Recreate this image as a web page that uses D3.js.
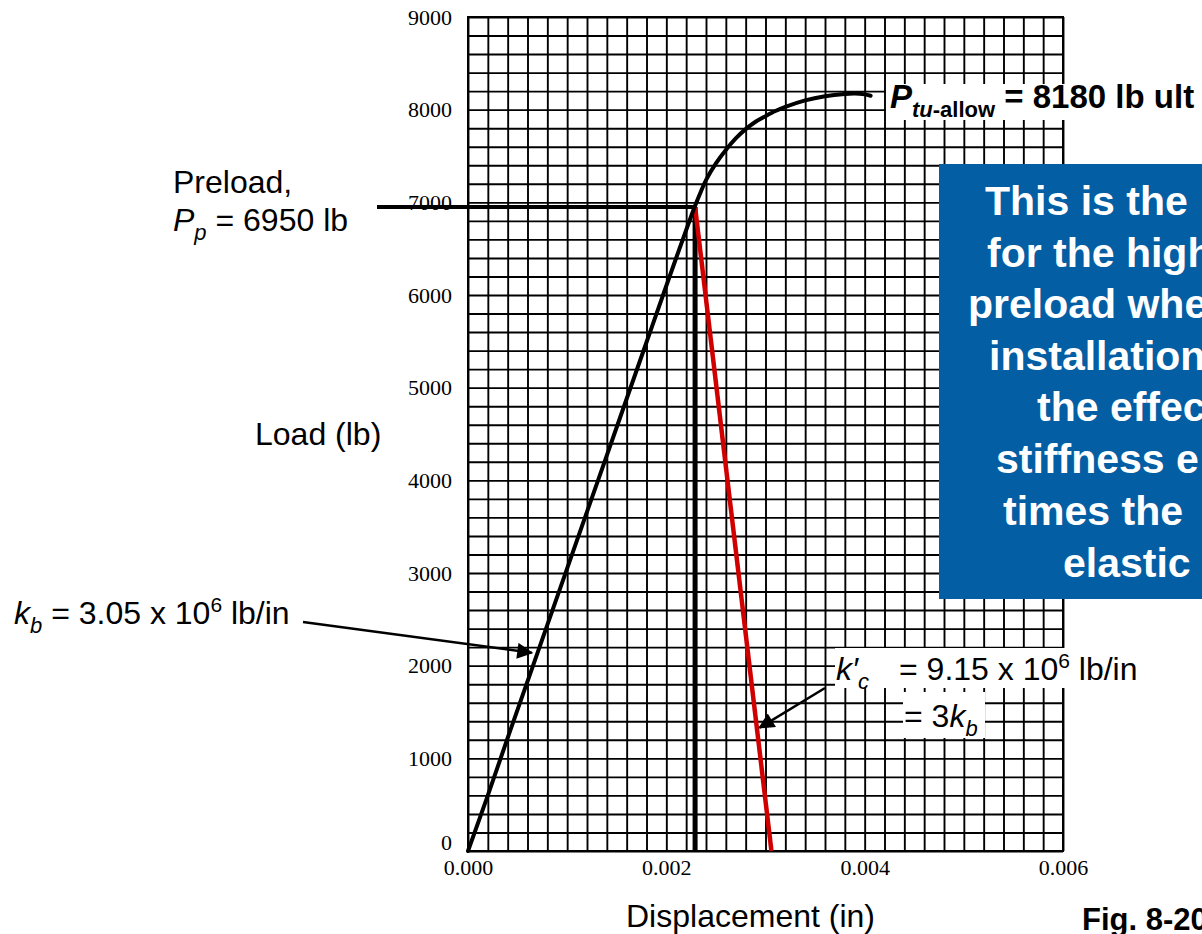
<!DOCTYPE html>
<html><head><meta charset="utf-8">
<script src="https://cdn.jsdelivr.net/npm/d3@7"></script>
<style>body{margin:0;background:#fff;overflow:hidden} svg{display:block}</style>
</head><body><svg id="c" width="1202" height="934"></svg>
<script>
// ---- data ----
const displacement = [0, 0.0002, 0.0004, 0.0006, 0.0008, 0.0010, 0.0012, 0.0014, 0.0016, 0.0018, 0.0020, 0.00225, 0.0023, 0.00235, 0.0024, 0.0025, 0.0026, 0.0027, 0.0028, 0.0029, 0.0030, 0.0031, 0.0032, 0.0034, 0.0036, 0.0038, 0.0039, 0.0040, 0.00406];
const load = [0, 600, 1220, 1830, 2440, 3050, 3660, 4270, 4880, 5490, 6100, 6850, 6990, 7120, 7240, 7420, 7565, 7690, 7790, 7870, 7930, 7985, 8030, 8100, 8145, 8170, 8175, 8165, 8150];
const clampDisp = [0.00229, 0.00306];
const clampLoad = [6950, 0];
const preloadValue = 6950;
const preloadDisp = 0.00229;
const xTickValues = [0, 0.002, 0.004, 0.006];
const xTickLabels = ["0.000", "0.002", "0.004", "0.006"];
const yTickValues = [0, 1000, 2000, 3000, 4000, 5000, 6000, 7000, 8000, 9000];
const yTickLabels = ["0", "1000", "2000", "3000", "4000", "5000", "6000", "7000", "8000", "9000"];
const boxLines = ["This is the", "for the high", "preload whe", "installation", "the effec", "stiffness e", "times the", "elastic"];

// ---- layout ----
const svg = d3.select("#c");
const L = 468, R = 1063, T = 17, B = 851;
const x = d3.scaleLinear().domain([0, 0.006]).range([L, R]);
const y = d3.scaleLinear().domain([0, 9000]).range([B, T]);
const sans = "Arial, 'Liberation Sans', Helvetica, sans-serif";
const serif = "'Times New Roman', 'Liberation Serif', Times, serif";

// defs
const defs = svg.append("defs");
defs.append("marker").attr("id", "ah2").attr("viewBox", "0 0 10 10").attr("refX", 9).attr("refY", 5)
  .attr("markerWidth", 20).attr("markerHeight", 16).attr("markerUnits", "userSpaceOnUse").attr("orient", "auto")
  .append("path").attr("d", "M0,0 L10,5 L0,10 Z").attr("fill", "#000");

// grid
const gGrid = svg.append("g");
gGrid.append("g").attr("transform", `translate(0,${B})`)
  .call(d3.axisBottom(x).ticks(30).tickSize(-(B - T)).tickFormat(""))
  .call(g => g.select(".domain").remove())
  .selectAll("line").attr("stroke", "#000").attr("stroke-width", 1.9);
gGrid.append("g").attr("transform", `translate(${L},0)`)
  .call(d3.axisLeft(y).ticks(45).tickSize(-(R - L)).tickFormat(""))
  .call(g => g.select(".domain").remove())
  .selectAll("line").attr("stroke", "#000").attr("stroke-width", 1.9);
svg.append("rect").attr("x", L).attr("y", T).attr("width", R - L).attr("height", B - T)
  .attr("fill", "none").attr("stroke", "#000").attr("stroke-width", 2);

// tick labels
const xAx = svg.append("g").attr("transform", `translate(0,${B})`)
  .call(d3.axisBottom(x).tickValues(xTickValues).tickSize(0).tickPadding(8).tickFormat((d, i) => xTickLabels[i]));
xAx.select(".domain").remove();
xAx.selectAll("text").attr("font-family", serif).attr("font-size", 22).attr("fill", "#000");
const yAx = svg.append("g").attr("transform", `translate(${L},0)`)
  .call(d3.axisLeft(y).tickValues(yTickValues).tickSize(0).tickPadding(16).tickFormat((d, i) => yTickLabels[i]));
yAx.select(".domain").remove();
yAx.selectAll("text").attr("font-family", serif).attr("font-size", 22).attr("fill", "#000")
  .attr("dy", d => d === 0 ? "-0.05em" : "0.32em");

// axis titles
svg.append("text").attr("x", 255).attr("y", 445).attr("font-family", sans).attr("font-size", 32).text("Load (lb)");
svg.append("text").attr("x", 626).attr("y", 927).attr("font-family", sans).attr("font-size", 32).text("Displacement (in)");

// preload lines
svg.append("line").attr("x1", x(preloadDisp)).attr("x2", x(preloadDisp)).attr("y1", y(preloadValue)).attr("y2", y(0))
  .attr("stroke", "#000").attr("stroke-width", 5);
svg.append("line").attr("x1", 377).attr("x2", x(preloadDisp)).attr("y1", y(preloadValue)).attr("y2", y(preloadValue))
  .attr("stroke", "#000").attr("stroke-width", 4);

// red clamp line
svg.append("path").datum(clampDisp.map((d, i) => [d, clampLoad[i]]))
  .attr("d", d3.line().x(d => x(d[0])).y(d => y(d[1])))
  .attr("fill", "none").attr("stroke", "#d00000").attr("stroke-width", 4.5);

// load-displacement curve
svg.append("path").datum(displacement.map((d, i) => [d, load[i]]))
  .attr("d", d3.line().x(d => x(d[0])).y(d => y(d[1])).curve(d3.curveCatmullRom.alpha(0.5)))
  .attr("fill", "none").attr("stroke", "#000").attr("stroke-width", 4).attr("stroke-linejoin", "round").attr("stroke-linecap", "round");

// Preload label
svg.append("text").attr("x", 173).attr("y", 193).attr("font-family", sans).attr("font-size", 32).text("Preload,");
const tp = svg.append("text").attr("x", 173).attr("y", 231).attr("font-family", sans).attr("font-size", 32);
tp.append("tspan").attr("font-style", "italic").text("P");
tp.append("tspan").attr("font-style", "italic").attr("font-size", 22).attr("dy", 9).text("p");
tp.append("tspan").attr("dy", -9).text(" = 6950 lb");

// kb label
const tk = svg.append("text").attr("x", 14).attr("y", 624).attr("font-family", sans).attr("font-size", 32);
tk.append("tspan").attr("font-style", "italic").text("k");
tk.append("tspan").attr("font-style", "italic").attr("font-size", 22).attr("dy", 9).text("b");
tk.append("tspan").attr("dy", -9).text(" = 3.05 x 10");
tk.append("tspan").attr("font-size", 21).attr("dy", -12).text("6");
tk.append("tspan").attr("dy", 12).text(" lb/in");
svg.append("line").attr("x1", 303).attr("y1", 622).attr("x2", x(0.000642)).attr("y2", y(2140))
  .attr("stroke", "#000").attr("stroke-width", 2.5).attr("marker-end", "url(#ah2)");

// k'c label
svg.append("rect").attr("x", 835).attr("y", 648).attr("width", 232).attr("height", 40).attr("fill", "#fff");
svg.append("rect").attr("x", 903).attr("y", 692).attr("width", 82).attr("height", 46).attr("fill", "#fff");
const tc = svg.append("text").attr("x", 836).attr("y", 680).attr("font-family", sans).attr("font-size", 32);
tc.append("tspan").attr("font-style", "italic").text("k′");
tc.append("tspan").attr("font-style", "italic").attr("font-size", 22).attr("dy", 9).text("c");
tc.append("tspan").attr("x", 899).attr("dy", -9).text("= 9.15 x 10");
tc.append("tspan").attr("font-size", 21).attr("dy", -12).text("6");
tc.append("tspan").attr("dy", 12).text(" lb/in");
const tc2 = svg.append("text").attr("x", 904).attr("y", 727).attr("font-family", sans).attr("font-size", 32);
tc2.append("tspan").text("= 3");
tc2.append("tspan").attr("font-style", "italic").text("k");
tc2.append("tspan").attr("font-style", "italic").attr("font-size", 22).attr("dy", 9).text("b");
svg.append("line").attr("x1", 825).attr("y1", 688).attr("x2", x(0.00294)).attr("y2", y(1330))
  .attr("stroke", "#000").attr("stroke-width", 2.5).attr("marker-end", "url(#ah2)");

// P tu-allow label
svg.append("rect").attr("x", 886).attr("y", 84).attr("width", 320).attr("height", 36).attr("fill", "#fff");
const tu = svg.append("text").attr("x", 890).attr("y", 108).attr("font-family", sans).attr("font-size", 33).attr("font-weight", "bold");
tu.append("tspan").attr("font-style", "italic").text("P");
tu.append("tspan").attr("font-style", "italic").attr("font-size", 22).attr("dy", 9).text("tu");
tu.append("tspan").attr("font-size", 22).text("-allow");
tu.append("tspan").attr("dy", -9).text(" = 8180 lb ult");

// blue note box
svg.append("rect").attr("x", 939).attr("y", 164).attr("width", 300).attr("height", 435).attr("fill", "#045EA3");
const boxX = [985, 987, 968, 989, 1037, 996, 1003, 1063];
const boxY = [215, 267, 318, 370, 421, 473, 525, 577];
svg.append("g").selectAll("text").data(boxLines).join("text")
  .attr("x", (d, i) => boxX[i]).attr("y", (d, i) => boxY[i])
  .attr("font-family", sans).attr("font-size", 41).attr("font-weight", "bold").attr("fill", "#fff")
  .text(d => d);

// figure label
svg.append("text").attr("x", 1082).attr("y", 930).attr("font-family", sans).attr("font-size", 31).attr("font-weight", "bold").text("Fig. 8-20");
</script>
</body></html>
